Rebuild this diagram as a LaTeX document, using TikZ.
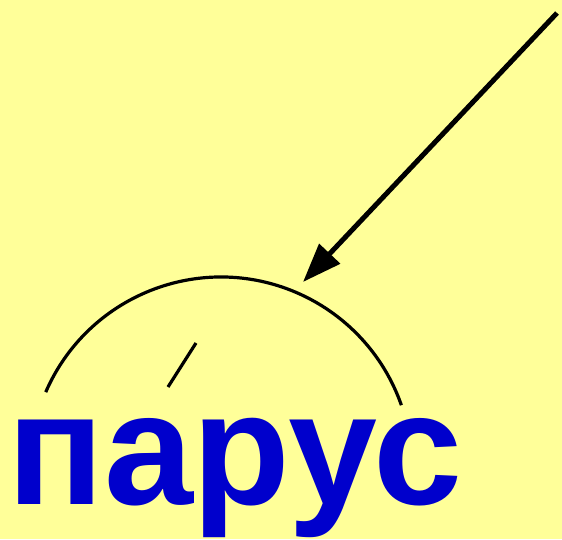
\documentclass[tikz,border=0pt]{standalone}
\usepackage{fontspec}
\setmainfont{Liberation Sans}
\usetikzlibrary{arrows.meta,calc}
\definecolor{bgyellow}{HTML}{FFFF99}
\definecolor{wordblue}{HTML}{0000CC}
\begin{document}
\begin{tikzpicture}[x=1pt,y=1pt,
  arcline/.style={line width=3.2pt,black},
  pointer/.style={line width=5pt,black,-{Triangle[length=39pt,width=28pt]}},
  word/.style={font=\fontsize{160}{162}\selectfont\bfseries,text=wordblue,inner sep=0pt,anchor=base}]
  \fill[bgyellow] (0,0) rectangle (562,539);
  \useasboundingbox (0,0) rectangle (562,539);
  \node[word] (w) at (235,35) {парус};
  \coordinate (c) at (221,71);
  \coordinate (arcstart) at ($(c)+(156.6:191)$);
  \draw[arcline] (arcstart) arc[start angle=156.6,end angle=19.2,radius=191];
  \coordinate (s1) at (196,196);
  \coordinate (s2) at (168,152);
  \draw[arcline] (s1) -- (s2);
  \coordinate (from) at (557,526);
  \coordinate (tip) at (303,257);
  \draw[pointer] (from) -- (tip);
\end{tikzpicture}
\end{document}
